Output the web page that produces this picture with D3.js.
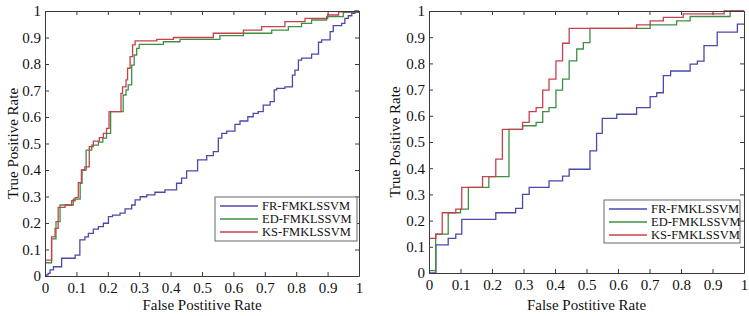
<!DOCTYPE html>
<html>
<head>
<meta charset="utf-8">
<script src="https://cdn.jsdelivr.net/npm/d3@7"></script>
<style>
  body { margin: 0; background: #fff; }
  svg { display: block; }
</style>
</head>
<body>
<div id="chart"></div>
<script>
// step points [false positive rate, true positive rate]
const leftFR = [[0,0],[0.005,0.004],[0.01,0.01],[0.016,0.023],[0.027,0.035],[0.053,0.067],[0.096,0.079],[0.111,0.136],[0.127,0.148],[0.138,0.161],[0.154,0.177],[0.17,0.186],[0.186,0.199],[0.202,0.224],[0.215,0.23],[0.239,0.237],[0.255,0.253],[0.276,0.268],[0.287,0.287],[0.303,0.299],[0.324,0.306],[0.35,0.316],[0.382,0.325],[0.419,0.35],[0.435,0.369],[0.451,0.397],[0.486,0.438],[0.515,0.454],[0.536,0.469],[0.552,0.52],[0.563,0.538],[0.579,0.547],[0.605,0.572],[0.621,0.585],[0.646,0.601],[0.663,0.614],[0.679,0.62],[0.695,0.645],[0.717,0.658],[0.73,0.702],[0.738,0.708],[0.764,0.714],[0.788,0.758],[0.796,0.777],[0.807,0.815],[0.817,0.822],[0.849,0.837],[0.871,0.882],[0.881,0.891],[0.908,0.922],[0.918,0.945],[0.945,0.953],[0.955,0.972],[0.966,0.982],[0.977,0.991],[0.987,1],[1,1]];
const leftED = [[0,0],[0,0.05],[0.021,0.14],[0.035,0.205],[0.048,0.268],[0.09,0.29],[0.112,0.35],[0.118,0.4],[0.131,0.475],[0.149,0.494],[0.17,0.505],[0.184,0.52],[0.196,0.538],[0.209,0.62],[0.249,0.683],[0.258,0.702],[0.265,0.721],[0.276,0.796],[0.284,0.834],[0.292,0.859],[0.3,0.874],[0.377,0.884],[0.43,0.893],[0.557,0.907],[0.632,0.916],[0.722,0.928],[0.775,0.941],[0.817,0.953],[0.849,0.966],[0.897,0.979],[0.95,0.995],[1,1]];
const leftKS = [[0,0],[0,0.06],[0.021,0.148],[0.032,0.18],[0.042,0.259],[0.064,0.268],[0.085,0.284],[0.096,0.296],[0.106,0.352],[0.116,0.4],[0.127,0.412],[0.141,0.488],[0.154,0.509],[0.173,0.522],[0.186,0.538],[0.196,0.557],[0.204,0.62],[0.242,0.689],[0.247,0.714],[0.258,0.74],[0.263,0.784],[0.271,0.828],[0.279,0.872],[0.287,0.887],[0.356,0.893],[0.409,0.9],[0.536,0.916],[0.632,0.928],[0.69,0.941],[0.764,0.96],[0.828,0.972],[0.9,0.985],[0.935,0.997],[1,1]];

const rightFR = [[0,0],[0.022,0.107],[0.061,0.132],[0.085,0.148],[0.104,0.205],[0.212,0.23],[0.275,0.247],[0.297,0.3],[0.318,0.327],[0.381,0.352],[0.424,0.37],[0.445,0.396],[0.511,0.466],[0.532,0.533],[0.55,0.59],[0.596,0.606],[0.659,0.631],[0.702,0.673],[0.723,0.688],[0.744,0.753],[0.767,0.771],[0.829,0.797],[0.852,0.809],[0.873,0.868],[0.915,0.919],[0.979,0.95],[1,0.95]];
const rightED = [[0,0],[0,0.009],[0.021,0.148],[0.061,0.23],[0.1,0.244],[0.125,0.327],[0.19,0.368],[0.254,0.548],[0.297,0.562],[0.34,0.575],[0.361,0.616],[0.381,0.631],[0.403,0.698],[0.424,0.74],[0.445,0.81],[0.469,0.855],[0.49,0.879],[0.511,0.934],[0.702,0.947],[0.786,0.962],[0.829,0.979],[0.956,1],[1,1]];
const rightKS = [[0,0],[0,0.132],[0.022,0.148],[0.042,0.23],[0.085,0.244],[0.104,0.327],[0.17,0.368],[0.212,0.435],[0.233,0.548],[0.297,0.575],[0.318,0.616],[0.34,0.631],[0.361,0.698],[0.381,0.74],[0.403,0.81],[0.424,0.877],[0.445,0.934],[0.659,0.947],[0.702,0.962],[0.744,0.976],[0.807,0.989],[0.937,1],[1,1]];

const seriesNames = ['FR-FMKLSSVM', 'ED-FMKLSSVM', 'KS-FMKLSSVM'];
const seriesColors = ['#4a4aaa', '#3f8f43', '#c8404c'];
const tickValues = d3.range(0, 11).map(d => d / 10);
const xLabel = 'False Postitive Rate';
const yLabel = 'True Positive Rate';

const width = 749, height = 316;
const font = '"Liberation Serif", "Times New Roman", serif';
const axisColor = '#3a3a3a';

const svg = d3.select('#chart').append('svg')
    .attr('width', width)
    .attr('height', height);

const panels = [
    { data: [leftFR, leftED, leftKS], x0: 45, x1: 359, y0: 11, y1: 276, ylab: 18, legend: { x: 215, y: 197, w: 142, h: 44 } },
    { data: [rightFR, rightED, rightKS], x0: 429, x1: 744, y0: 11, y1: 273, ylab: 400, legend: { x: 604, y: 200, w: 136, h: 43 } }
];

panels.forEach((p, i) => {
    const x = d3.scaleLinear().domain([0, 1]).range([p.x0, p.x1]);
    const y = d3.scaleLinear().domain([0, 1]).range([p.y1, p.y0]);
    const g = svg.append('g');

    const clipId = 'clip' + i;
    g.append('clipPath').attr('id', clipId)
        .append('rect')
        .attr('x', p.x0).attr('y', p.y0 - 1)
        .attr('width', p.x1 - p.x0).attr('height', p.y1 - p.y0 + 1);

    const line = d3.line()
        .x(d => x(d[0]))
        .y(d => y(d[1]))
        .curve(d3.curveStepAfter);

    p.data.forEach((s, k) => {
        g.append('path')
            .attr('clip-path', `url(#${clipId})`)
            .attr('d', line(s))
            .attr('fill', 'none')
            .attr('stroke', seriesColors[k])
            .attr('stroke-width', 1.3);
    });

    // axes with inward ticks on all sides
    const axes = [
        { ax: d3.axisBottom(x), t: `translate(0,${p.y1})`, labels: true, pad: 6 },
        { ax: d3.axisTop(x), t: `translate(0,${p.y0})`, labels: false, pad: 0 },
        { ax: d3.axisLeft(y), t: `translate(${p.x0},0)`, labels: true, pad: 4 },
        { ax: d3.axisRight(y), t: `translate(${p.x1},0)`, labels: false, pad: 0 }
    ];
    axes.forEach(a => {
        const ag = g.append('g')
            .attr('transform', a.t)
            .call(a.ax.tickValues(tickValues)
                .tickSizeInner(-4).tickSizeOuter(0)
                .tickPadding(a.pad)
                .tickFormat(a.labels ? d3.format('~g') : ''));
        ag.select('.domain').attr('stroke', axisColor).attr('stroke-width', 1);
        ag.selectAll('.tick line').attr('stroke', axisColor);
        ag.selectAll('text')
            .attr('fill', '#111')
            .style('font-family', font)
            .style('font-size', '15px');
    });

    g.append('text')
        .attr('x', (p.x0 + p.x1) / 2)
        .attr('y', 310)
        .attr('text-anchor', 'middle')
        .style('font-family', font)
        .style('font-size', '15px')
        .attr('fill', '#111')
        .text(xLabel);

    g.append('text')
        .attr('transform', `translate(${p.ylab},${(p.y0 + p.y1) / 2}) rotate(-90)`)
        .attr('text-anchor', 'middle')
        .style('font-family', font)
        .style('font-size', '15px')
        .attr('fill', '#111')
        .text(yLabel);

    // legend
    const L = p.legend;
    const lg = g.append('g').attr('transform', `translate(${L.x},${L.y})`);
    lg.append('rect')
        .attr('width', L.w).attr('height', L.h)
        .attr('fill', '#fff')
        .attr('stroke', '#666')
        .attr('stroke-width', 1);
    seriesNames.forEach((name, k) => {
        const ry = 9 + k * 13;
        lg.append('line')
            .attr('x1', 5).attr('x2', 43)
            .attr('y1', ry).attr('y2', ry)
            .attr('stroke', seriesColors[k])
            .attr('stroke-width', 1.3);
        lg.append('text')
            .attr('x', 47).attr('y', ry)
            .attr('dy', '0.35em')
            .style('font-family', font)
            .style('font-size', '12.5px')
            .attr('fill', '#111')
            .text(name);
    });
});
</script>
</body>
</html>
